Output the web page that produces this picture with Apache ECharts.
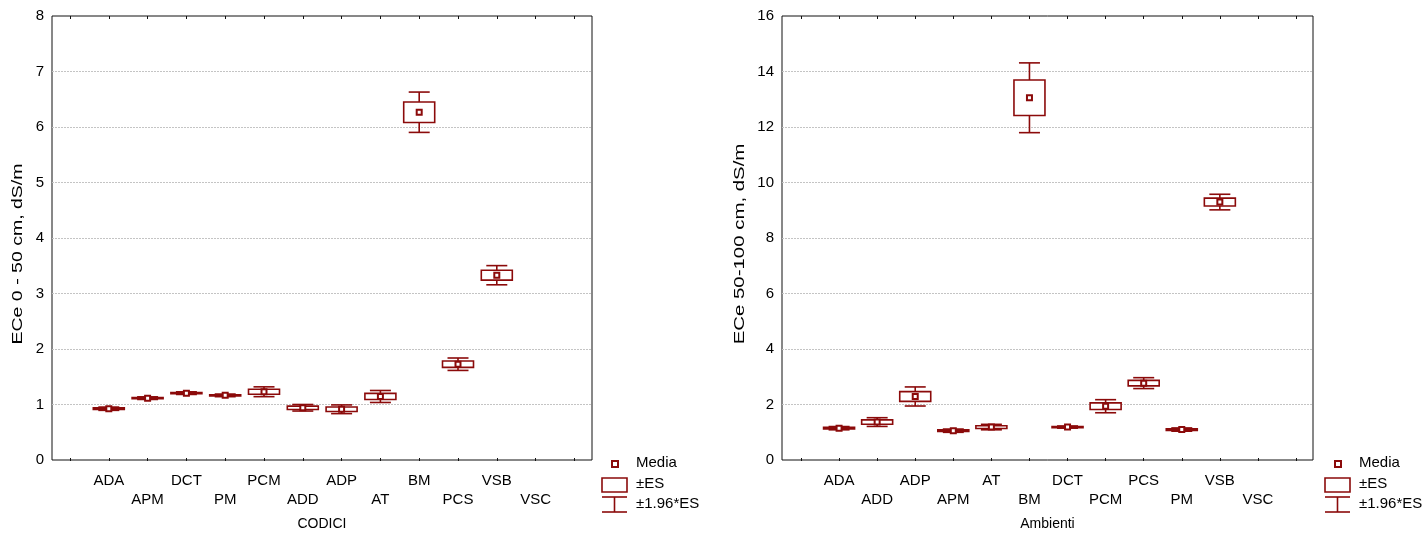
<!DOCTYPE html>
<html><head><meta charset="utf-8">
<script src="https://cdn.jsdelivr.net/npm/echarts@6/dist/echarts.min.js"></script>
<style>html,body{margin:0;padding:0;background:#fff}#c{width:1427px;height:536px}</style>
</head><body><div id="c"></div>
<script>
// ---- data ----
const leftCategories = ['ADA','APM','DCT','PM','PCM','ADD','ADP','AT','BM','PCS','VSB','VSC'];
const leftMeans = [0.94, 1.13, 1.22, 1.18, 1.245, 0.957, 0.93, 1.16, 6.27, 1.74, 3.34, null];
const leftSE    = [0.015, 0.012, 0.012, 0.012, 0.045, 0.03, 0.04, 0.055, 0.185, 0.057, 0.088, null];
const rightCategories = ['ADA','ADD','ADP','APM','AT','BM','DCT','PCM','PCS','PM','VSB','VSC'];
const rightMeans = [1.18, 1.40, 2.32, 1.09, 1.22, 13.06, 1.22, 1.97, 2.80, 1.13, 9.31, null];
const rightSE    = [0.03, 0.08, 0.175, 0.03, 0.05, 0.64, 0.02, 0.12, 0.10, 0.03, 0.143, null];
const leftYMax = 8, leftYStep = 1;
const rightYMax = 16, rightYStep = 2;
const legendLabels = ['Media', '±ES', '±1.96*ES'];
const leftXName = 'CODICI', rightXName = 'Ambienti';
const leftYName = 'ECe 0 - 50 cm, dS/m', rightYName = 'ECe 50-100 cm, dS/m';
const Z = 1.96;

// ---- style ----
const RED = '#8B0A0A';
const FONT = "'Liberation Sans', Arial, sans-serif";
const chart = echarts.init(document.getElementById('c'), null, {renderer: 'canvas'});

function panel(idx, frame, data, cats, means, se, ymax, ystep, xname) {
  const g0 = idx * 2, g1 = idx * 2 + 1;
  const grids = [
    {left: frame.left, top: 16, width: frame.width, height: 445, show: true, borderColor: '#111', borderWidth: 1, backgroundColor: 'transparent'},
    {left: data.left, top: 16, width: data.width, height: 445}
  ];
  const xAxes = [
    {gridIndex: g0, type: 'value', min: 0, max: 1, axisLine: {show: false}, axisTick: {show: false}, axisLabel: {show: false}, splitLine: {show: false},
     name: xname, nameLocation: 'middle', nameGap: 57, nameTextStyle: {fontFamily: FONT, fontSize: 14, color: '#000'}},
    {gridIndex: g1, type: 'value', min: 0, max: 13, interval: 1, position: 'bottom',
     axisLine: {show: false}, axisTick: {show: true, inside: true, length: 3, lineStyle: {color: '#111'}},
     splitLine: {show: false},
     axisLabel: {margin: 10, fontFamily: FONT, fontSize: 15, color: '#000', lineHeight: 19,
       formatter: v => { const i = Math.round(v); if (i < 1 || i > cats.length) return ''; return (i % 2 === 1) ? cats[i-1] : '\n' + cats[i-1]; }}},
    {gridIndex: g1, type: 'value', min: 0, max: 13, interval: 1, position: 'top',
     axisLine: {show: false}, axisTick: {show: true, inside: true, length: 3, lineStyle: {color: '#111'}},
     axisLabel: {show: false}, splitLine: {show: false}}
  ];
  const yAxes = [
    {gridIndex: g0, type: 'value', min: 0, max: ymax, interval: ystep,
     axisLine: {show: false}, axisTick: {show: false},
     axisLabel: {margin: 8, fontFamily: FONT, fontSize: 15, color: '#000'},
     splitLine: {show: true, showMinLine: false, showMaxLine: false, lineStyle: {color: '#c4c4c4', type: [2, 1], width: 1}}},
    {gridIndex: g1, type: 'value', min: 0, max: ymax, show: false}
  ];
  const seriesData = [];
  means.forEach((m, i) => { if (m != null) seriesData.push([i + 1, m, se[i]]); });
  const series = [{
    type: 'custom', name: '±ES', xAxisIndex: idx * 3 + 1, yAxisIndex: idx * 2 + 1,
    data: seriesData, clip: false,
    renderItem: (params, api) => {
      const x = api.value(0), m = api.value(1), s = api.value(2);
      const c = api.coord([x, m]);
      const hi = api.coord([x, m + Z * s]);
      const lo = api.coord([x, m - Z * s]);
      const bt = api.coord([x, m + s]);
      const bb = api.coord([x, m - s]);
      const bw = 31, cw = 21, ms = 5;
      const ls = {stroke: RED, lineWidth: 1.6, fill: null};
      return {type: 'group', children: [
        {type: 'line', shape: {x1: c[0], y1: hi[1], x2: c[0], y2: lo[1]}, style: ls},
        {type: 'line', shape: {x1: c[0] - cw/2, y1: hi[1], x2: c[0] + cw/2, y2: hi[1]}, style: ls},
        {type: 'line', shape: {x1: c[0] - cw/2, y1: lo[1], x2: c[0] + cw/2, y2: lo[1]}, style: ls},
        {type: 'rect', shape: {x: c[0] - bw/2, y: bt[1], width: bw, height: Math.max(bb[1] - bt[1], 0.5)}, style: {stroke: RED, lineWidth: 1.6, fill: '#fff'}},
        {type: 'rect', shape: {x: c[0] - ms/2, y: c[1] - ms/2, width: ms, height: ms}, style: {stroke: RED, lineWidth: 2, fill: '#fff'}}
      ]};
    }
  }];
  return {grids, xAxes, yAxes, series};
}

function yTitle(txt, cx, cy, stretch) {
  return {type: 'text', x: cx, y: cy, rotation: Math.PI / 2, scaleX: stretch, scaleY: 1,
    style: {text: txt, font: "15px " + FONT, fill: '#000', align: 'center', verticalAlign: 'middle'}};
}

function legendGraphic(x0) {
  const t = (y, txt) => ({type: 'text', left: x0 + 34, top: y - 9, style: {text: txt, font: "15px " + FONT, fill: '#000'}});
  return [
    {type: 'rect', shape: {x: x0 + 10, y: 461, width: 6, height: 6}, style: {stroke: RED, lineWidth: 2, fill: '#fff'}},
    t(464, legendLabels[0]),
    {type: 'rect', shape: {x: x0, y: 478, width: 25, height: 14}, style: {stroke: RED, lineWidth: 1.6, fill: '#fff'}},
    t(485, legendLabels[1]),
    {type: 'line', shape: {x1: x0, y1: 497, x2: x0 + 25, y2: 497}, style: {stroke: RED, lineWidth: 1.6}},
    {type: 'line', shape: {x1: x0 + 12.5, y1: 497, x2: x0 + 12.5, y2: 512}, style: {stroke: RED, lineWidth: 1.6}},
    {type: 'line', shape: {x1: x0, y1: 512, x2: x0 + 25, y2: 512}, style: {stroke: RED, lineWidth: 1.6}},
    t(505, legendLabels[2])
  ];
}

const L = panel(0, {left: 52, width: 540}, {left: 70, width: 504.4}, leftCategories, leftMeans, leftSE, leftYMax, leftYStep, leftXName);
const R = panel(1, {left: 782, width: 531}, {left: 801, width: 495}, rightCategories, rightMeans, rightSE, rightYMax, rightYStep, rightXName);

chart.setOption({
  animation: false,
  backgroundColor: '#fff',
  textStyle: {fontFamily: FONT},
  grid: [...L.grids, ...R.grids],
  xAxis: [...L.xAxes, ...R.xAxes],
  yAxis: [...L.yAxes, ...R.yAxes],
  series: [...L.series, ...R.series],
  graphic: [
    yTitle(leftYName, 18, 254, 1.3),
    yTitle(rightYName, 740, 244, 1.36),
    ...legendGraphic(602), ...legendGraphic(1325)
  ]
});
</script></body></html>
